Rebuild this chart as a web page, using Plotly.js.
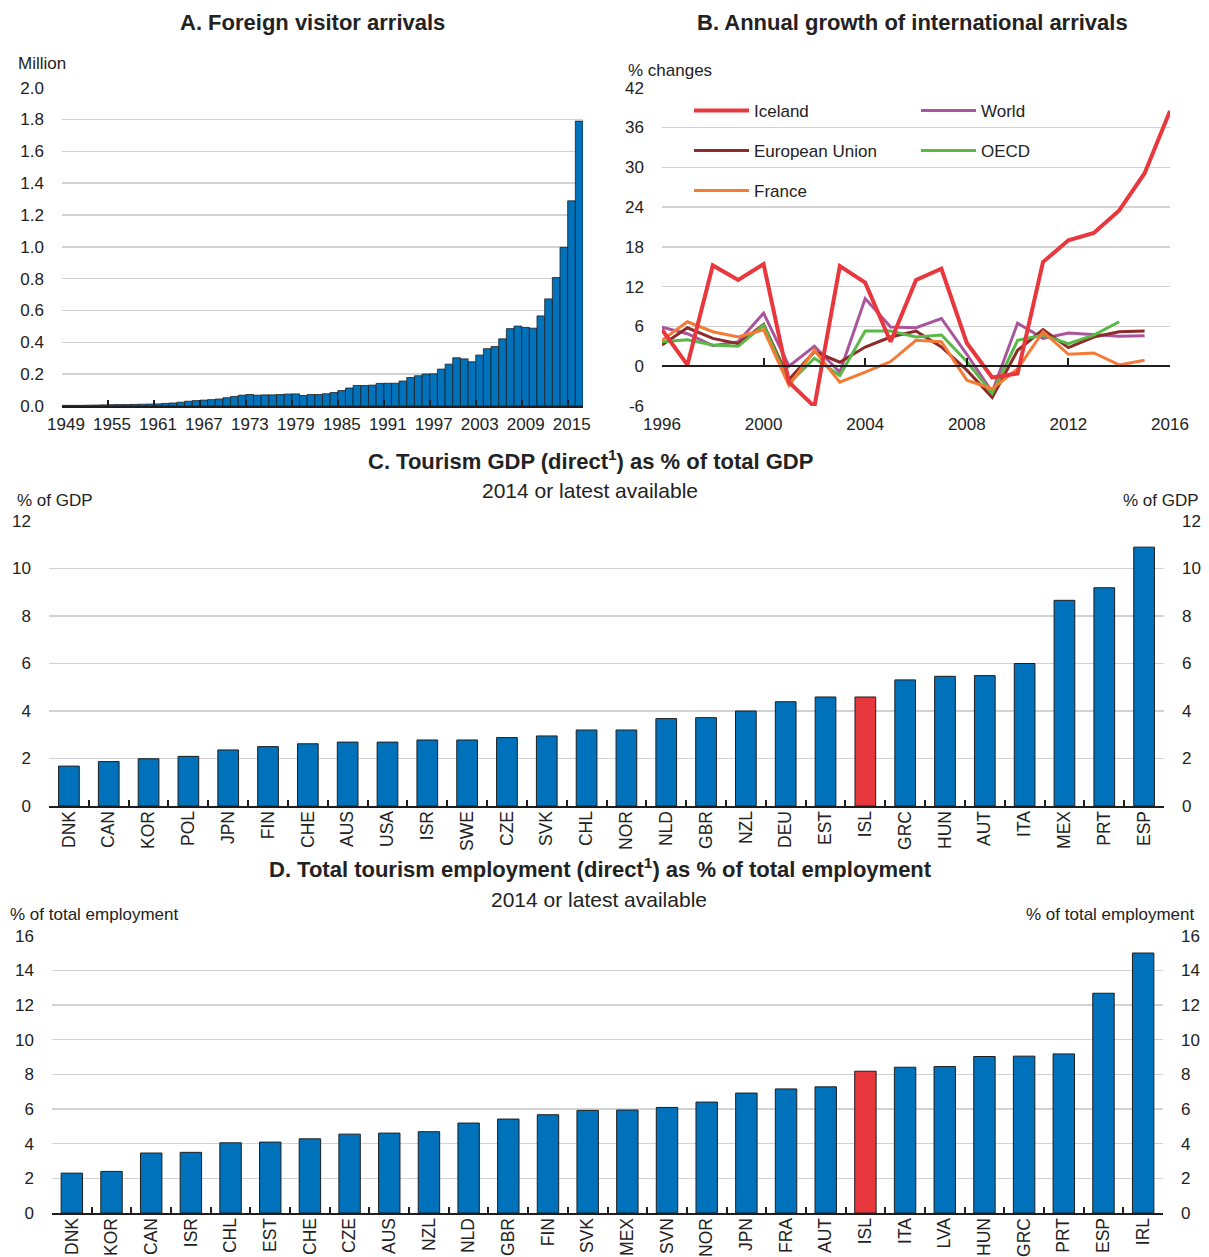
<!DOCTYPE html>
<html><head><meta charset="utf-8">
<script src="https://cdn.plot.ly/plotly-3.0.1.min.js"></script>
<style>html,body{margin:0;padding:0;background:#fff;overflow:hidden;} #chart{width:1209px;height:1257px;}</style>
</head><body><div id="chart"></div>
<script>
// ---------- Data ----------
const arrivalYears = [1949,1950,1951,1952,1953,1954,1955,1956,1957,1958,1959,1960,1961,1962,1963,1964,1965,1966,1967,1968,1969,1970,1971,1972,1973,1974,1975,1976,1977,1978,1979,1980,1981,1982,1983,1984,1985,1986,1987,1988,1989,1990,1991,1992,1993,1994,1995,1996,1997,1998,1999,2000,2001,2002,2003,2004,2005,2006,2007,2008,2009,2010,2011,2012,2013,2014,2015,2016];
const arrivalsMillion = [0.004,0.004,0.004,0.005,0.006,0.007,0.008,0.009,0.009,0.010,0.011,0.012,0.013,0.016,0.019,0.024,0.030,0.034,0.037,0.040,0.044,0.052,0.060,0.068,0.072,0.068,0.070,0.070,0.072,0.075,0.076,0.066,0.072,0.072,0.077,0.085,0.097,0.113,0.129,0.129,0.131,0.142,0.143,0.143,0.157,0.179,0.190,0.201,0.202,0.232,0.263,0.303,0.296,0.278,0.320,0.360,0.374,0.422,0.486,0.502,0.494,0.489,0.566,0.673,0.807,0.997,1.289,1.790];
const arrivalTickYears = [1949,1955,1961,1967,1973,1979,1985,1991,1997,2003,2009,2015];

const growthYears = [1996,1997,1998,1999,2000,2001,2002,2003,2004,2005,2006,2007,2008,2009,2010,2011,2012,2013,2014,2015,2016];
const growthIceland = [5.5,0.2,15.2,13.0,15.4,-2.4,-6.1,15.1,12.6,3.7,13.0,14.7,3.5,-1.7,-1.1,15.7,19.0,20.1,23.5,29.1,38.5];
const growthWorld   = [5.9,4.9,3.1,3.7,8.0,0.0,3.0,-0.9,10.2,5.9,5.8,7.2,1.8,-3.9,6.5,4.2,5.0,4.8,4.5,4.6,null];
const growthEU      = [3.2,5.8,4.2,3.4,6.3,-2.0,2.2,0.6,2.9,4.4,5.3,2.9,-0.6,-4.7,2.4,5.5,2.8,4.4,5.2,5.3,null];
const growthOECD    = [3.7,4.0,3.2,3.0,6.2,-2.6,1.2,-1.4,5.3,5.3,4.4,4.7,0.7,-4.1,3.9,4.7,3.4,4.7,6.7,null,null];
const growthFrance  = [3.9,6.7,5.2,4.4,5.5,-2.9,2.4,-2.4,-0.9,0.7,3.9,3.7,-2.1,-3.4,-0.4,5.2,1.8,2.0,0.2,0.9,null];
const growthTickYears = [1996,2000,2004,2008,2012,2016];
const growthTickValues = [-6,0,6,12,18,24,30,36,42];

const gdpCountries = ['DNK','CAN','KOR','POL','JPN','FIN','CHE','AUS','USA','ISR','SWE','CZE','SVK','CHL','NOR','NLD','GBR','NZL','DEU','EST','ISL','GRC','HUN','AUT','ITA','MEX','PRT','ESP'];
const gdpShare = [1.68,1.87,1.99,2.09,2.36,2.50,2.62,2.69,2.69,2.78,2.78,2.88,2.95,3.20,3.20,3.68,3.72,4.00,4.39,4.59,4.59,5.31,5.46,5.49,6.00,8.66,9.19,10.90];

const empCountries = ['DNK','KOR','CAN','ISR','CHL','EST','CHE','CZE','AUS','NZL','NLD','GBR','FIN','SVK','MEX','SVN','NOR','JPN','FRA','AUT','ISL','ITA','LVA','HUN','GRC','PRT','ESP','IRL'];
const empShare = [2.30,2.40,3.46,3.50,4.05,4.09,4.28,4.55,4.61,4.69,5.19,5.42,5.67,5.92,5.94,6.09,6.40,6.92,7.16,7.28,8.18,8.41,8.45,9.03,9.05,9.18,12.68,15.00];

// ---------- Styling ----------
const W = 1209, H = 1257;
const X = px => px / W;
const Y = py => 1 - py / H;
const FONT = 'Liberation Sans, Arial, Helvetica, sans-serif';
const TXT = '#222222';
const BLUE = '#0072BC';
const RED = '#E8383D';
const GRID = '#d2d2d2';
const AXIS = '#1e1e1e';
const highlight = 'ISL';

const domAy = [Y(406), Y(87.7)];
const rangeB = [-6, 42];
const zeroPosB = domAy[0] + (0 - rangeB[0]) / (rangeB[1] - rangeB[0]) * (domAy[1] - domAy[0]);

const tickFont = {family: FONT, size: 17, color: TXT};
const catFont = {family: FONT, size: 17.5, color: TXT};
const gridY = {showgrid: true, gridcolor: GRID, gridwidth: 1.5, zeroline: false, showline: false, ticks: '', tickfont: tickFont, ticklabelstandoff: 17, fixedrange: true};

const traces = [];

// Panel A
traces.push({type: 'bar', x: arrivalYears, y: arrivalsMillion, offset: 0, width: 1,
  marker: {color: BLUE, line: {color: AXIS, width: 0.8}}, xaxis: 'x', yaxis: 'y', showlegend: false, hoverinfo: 'x+y'});

// Panel B
const lineSeries = [
  {name: 'World', y: growthWorld, color: '#A9559E', w: 3, legend: 'legend', rank: 2},
  {name: 'European Union', y: growthEU, color: '#8E2A2A', w: 3, legend: 'legend2', rank: 1},
  {name: 'OECD', y: growthOECD, color: '#59B947', w: 3, legend: 'legend2', rank: 2},
  {name: 'France', y: growthFrance, color: '#F47B36', w: 3, legend: 'legend3', rank: 1},
  {name: 'Iceland', y: growthIceland, color: RED, w: 4, legend: 'legend', rank: 1}
];
lineSeries.forEach(s => traces.push({type: 'scatter', mode: 'lines', name: s.name, x: growthYears, y: s.y,
  line: {color: s.color, width: s.w}, xaxis: 'x2', yaxis: 'y2', legend: s.legend, legendrank: s.rank, connectgaps: false}));
// registers the bottom label axis of panel B (draws nothing)
traces.push({type: 'scatter', mode: 'none', x: growthYears, y: growthIceland, xaxis: 'x5', yaxis: 'y2', showlegend: false, hoverinfo: 'skip'});

// Panel C
traces.push({type: 'bar', x: gdpCountries, y: gdpShare, width: 0.52,
  marker: {color: gdpCountries.map(c => c === highlight ? RED : BLUE), line: {color: AXIS, width: 1}},
  xaxis: 'x3', yaxis: 'y3', showlegend: false});
traces.push({type: 'scatter', mode: 'none', x: gdpCountries, y: gdpShare, xaxis: 'x3', yaxis: 'y6', showlegend: false, hoverinfo: 'skip'});

// Panel D
traces.push({type: 'bar', x: empCountries, y: empShare, width: 0.54,
  marker: {color: empCountries.map(c => c === highlight ? RED : BLUE), line: {color: AXIS, width: 1}},
  xaxis: 'x4', yaxis: 'y4', showlegend: false});
traces.push({type: 'scatter', mode: 'none', x: empCountries, y: empShare, xaxis: 'x4', yaxis: 'y7', showlegend: false, hoverinfo: 'skip'});

const legendBase = {orientation: 'h', xanchor: 'left', yanchor: 'middle', x: X(689), itemwidth: 55, entrywidth: 157, entrywidthmode: 'pixels',
  bgcolor: 'rgba(0,0,0,0)', font: {family: FONT, size: 17, color: TXT}, itemclick: false, itemdoubleclick: false};

const ann = (text, px, py, opts = {}) => Object.assign({text, x: X(px), y: Y(py), xref: 'paper', yref: 'paper', showarrow: false,
  xanchor: 'center', yanchor: 'middle', font: {family: FONT, size: 17, color: TXT}}, opts);
const boldFont = {family: FONT, size: 22, color: TXT};
const subFont = {family: FONT, size: 21, color: TXT};

const catAxis = {type: 'category', tickson: 'boundaries', ticks: 'inside', ticklen: 6,
  tickwidth: 2, tickcolor: AXIS, showline: true, linecolor: AXIS, linewidth: 2, showgrid: false, zeroline: false,
  tickangle: -90, tickfont: catFont, ticklabelstandoff: -4, fixedrange: true};

const layout = {
  width: W, height: H, autosize: false,
  margin: {l: 0, r: 0, t: 0, b: 0, pad: 0, autoexpand: false},
  paper_bgcolor: '#ffffff', plot_bgcolor: 'rgba(0,0,0,0)',
  font: {family: FONT, size: 17, color: TXT},
  showlegend: true,
  legend: Object.assign({}, legendBase, {y: Y(111)}),
  legend2: Object.assign({}, legendBase, {y: Y(151)}),
  legend3: Object.assign({}, legendBase, {y: Y(191)}),
  // A
  xaxis: {domain: [X(62), X(583)], anchor: 'y', range: [1949, 2017], tickmode: 'array', tickvals: arrivalTickYears,
    ticktext: arrivalTickYears.map(String), ticks: 'inside', ticklen: 6, tickwidth: 2, tickcolor: AXIS,
    showline: true, linecolor: AXIS, linewidth: 2, showgrid: false, zeroline: false, tickfont: tickFont,
    ticklabelshift: 4, ticklabelstandoff: 2, fixedrange: true},
  yaxis: Object.assign({}, gridY, {domain: domAy, anchor: 'x', range: [0, 2.0], dtick: 0.2, tick0: 0, tickformat: '.1f'}),
  // B: line axis sitting on zero
  xaxis2: {domain: [X(662), X(1170)], anchor: 'free', position: zeroPosB, range: [1996, 2016], tickmode: 'array',
    tickvals: growthTickYears, showticklabels: false, ticks: 'inside', ticklen: 7, tickwidth: 2, tickcolor: AXIS,
    showline: true, linecolor: AXIS, linewidth: 2, showgrid: false, zeroline: false, fixedrange: true},
  // B: labels at the bottom
  xaxis5: {overlaying: 'x2', anchor: 'y2', side: 'bottom', range: [1996, 2016], tickmode: 'array', tickvals: growthTickYears,
    ticktext: growthTickYears.map(String), ticks: '', showline: false, showgrid: false, zeroline: false, tickfont: tickFont,
    ticklabelstandoff: 6, fixedrange: true},
  yaxis2: Object.assign({}, gridY, {domain: domAy, anchor: 'x2', range: rangeB, tickmode: 'array',
    tickvals: growthTickValues, ticktext: growthTickValues.map(String)}),
  // C
  xaxis3: Object.assign({}, catAxis, {domain: [X(49), X(1164)], anchor: 'y3'}),
  yaxis3: Object.assign({}, gridY, {domain: [Y(806), Y(521)], anchor: 'x3', range: [0, 12], dtick: 2, tick0: 0}),
  yaxis6: Object.assign({}, gridY, {overlaying: 'y3', anchor: 'x3', side: 'right', range: [0, 12], dtick: 2, tick0: 0, showgrid: false}),
  // D
  xaxis4: Object.assign({}, catAxis, {domain: [X(52), X(1163)], anchor: 'y4'}),
  yaxis4: Object.assign({}, gridY, {domain: [Y(1213), Y(935.7)], anchor: 'x4', range: [0, 16], dtick: 2, tick0: 0}),
  yaxis7: Object.assign({}, gridY, {overlaying: 'y4', anchor: 'x4', side: 'right', range: [0, 16], dtick: 2, tick0: 0, showgrid: false}),
  annotations: [
    ann('<b>A. Foreign visitor arrivals</b>', 312, 22, {font: boldFont}),
    ann('<b>B. Annual growth of international arrivals</b>', 912, 22, {font: boldFont}),
    ann('Million', 16, 63, {xanchor: 'left'}),
    ann('% changes', 626, 70, {xanchor: 'left'}),
    ann('<b>C. Tourism GDP (direct<sup>1</sup>) as % of total GDP</b>', 590, 460, {font: boldFont}),
    ann('2014 or latest available', 590, 490, {font: subFont}),
    ann('% of GDP', 15, 501, {xanchor: 'left'}),
    ann('% of GDP', 1201, 501, {xanchor: 'right'}),
    ann('<b>D. Total tourism employment (direct<sup>1</sup>) as % of total employment</b>', 600, 868, {font: boldFont}),
    ann('2014 or latest available', 599, 899, {font: subFont}),
    ann('% of total employment', 8, 914, {xanchor: 'left'}),
    ann('% of total employment', 1196, 914, {xanchor: 'right'})
  ]
};

Plotly.newPlot('chart', traces, layout, {displayModeBar: false, staticPlot: true});
</script>
</body></html>
